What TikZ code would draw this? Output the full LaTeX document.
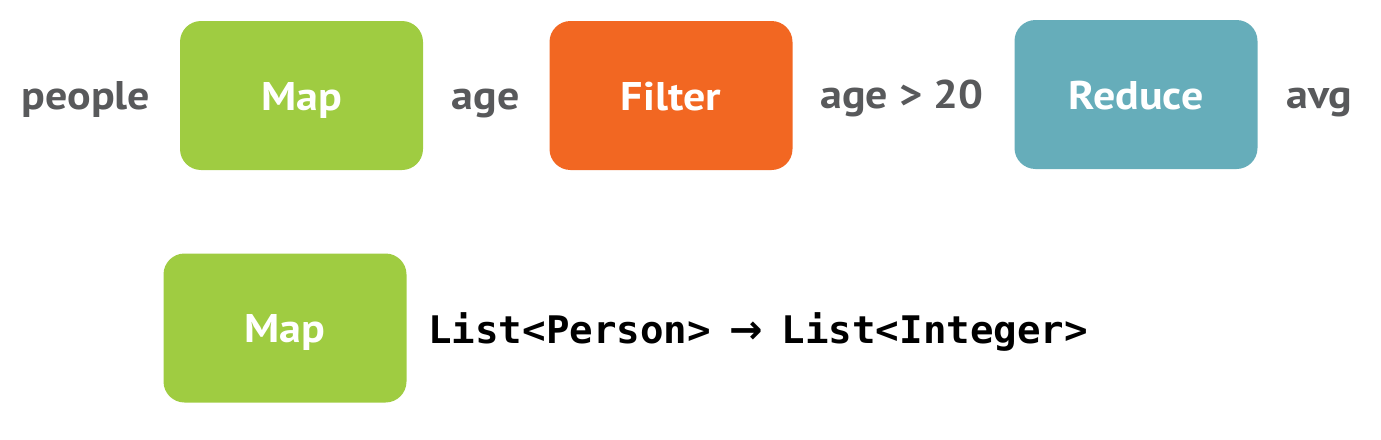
\documentclass[tikz,border=0pt]{standalone}
\usepackage{fontspec}
\setmainfont{PT Sans}[FakeStretch=1.1]
\newfontfamily\codefont[FakeStretch=1.03]{DejaVu Sans Mono}
\newfontfamily\arrowfont{DejaVu Sans}
\usepackage{tikz}
\usetikzlibrary{positioning}
\definecolor{mapgreen}{HTML}{9FCC41}
\definecolor{filterorange}{HTML}{F26722}
\definecolor{reduceteal}{HTML}{66ADBA}
\definecolor{labelgray}{HTML}{58595B}
\newcommand{\typearrow}{\makebox[0.62em]{\arrowfont\fontsize{40}{48}\selectfont\bfseries →}}
\tikzset{
  opbox/.style={rounded corners=21pt, minimum width=243pt, minimum height=149pt,
    inner sep=0pt, text height=29pt, text depth=0pt, text=white,
    font=\fontsize{40}{48}\selectfont\bfseries},
  datalabel/.style={anchor=base, inner sep=0pt, text=labelgray,
    font=\fontsize{40}{48}\selectfont\bfseries}
}

\begin{document}
\begin{tikzpicture}[x=1pt, y=-1pt]
        \useasboundingbox (0, 0) rectangle (1381, 439);
        % top row: people -> Map -> age -> Filter -> age > 20 -> Reduce -> avg
        \node [opbox, fill=mapgreen]     (M1) at (301.5, 95.5)  {Map};
        \node [opbox, fill=filterorange] (F)  at (671, 95.5)    {Filter};
        \node [opbox, fill=reduceteal]   (R)  at (1136, 94.5)   {Reduce};
        \node [datalabel] (P)  at (86, 109)    {people};
        \node [datalabel] (A)  at (485.5, 109) {age};
        \node [datalabel] (AG) at (902, 108)   {age > 20};
        \node [datalabel] (AV) at (1319.5, 108) {avg};
        % bottom row: the type of Map
        \node [opbox, fill=mapgreen] (M2) at (285, 328) {Map};
        \node [anchor=base west, inner sep=0pt, text=black,
               font=\codefont\fontsize{38}{46}\selectfont\bfseries] (T) at (428, 343)
              {List<Person> \typearrow{} List<Integer>};
\end{tikzpicture}
\end{document}
